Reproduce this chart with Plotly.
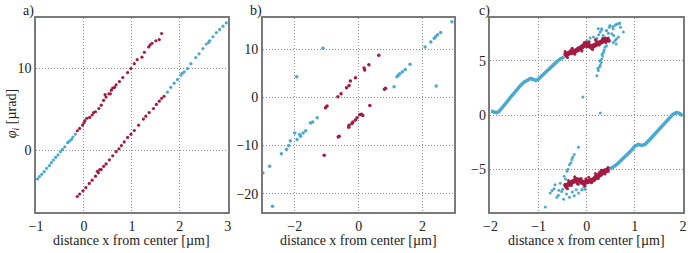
import plotly.graph_objects as go

# ---------------- data ----------------
# panel a
a_blue1_x = [-0.97, -0.93, -0.88, -0.83, -0.78, -0.72, -0.68, -0.64, -0.59, -0.54, -0.49, -0.45, -0.40, -0.34, -0.30, -0.26, -0.23, -0.18]
a_blue1_y = [-3.55, -3.27, -2.98, -2.65, -2.24, -1.92, -1.55, -1.22, -0.90, -0.60, -0.20, 0.08, 0.40, 0.90, 1.10, 1.30, 1.60, 1.96]
a_red1_x = [-0.14, -0.09, -0.03, 0.00, 0.02, 0.06, 0.12, 0.17, 0.24, 0.31, 0.36, 0.41, 0.46, 0.52, 0.57, 0.64, 0.67, 0.74, 0.81, 0.91, 0.98, 1.05, 1.11, 1.21, 1.26, 1.35, 1.42, 1.50, 1.57, 1.62, 0.44, 0.55, 0.60, 0.20, 1.38]
a_red1_y = [2.37, 2.65, 3.06, 3.35, 3.60, 3.90, 4.00, 4.30, 4.70, 5.10, 5.50, 6.10, 6.50, 6.90, 7.35, 7.70, 8.00, 8.40, 8.90, 9.50, 10.00, 10.60, 11.10, 11.40, 12.00, 12.65, 13.10, 13.40, 13.55, 14.30, 6.80, 6.90, 7.60, 4.60, 12.90]
a_red2_x = [-0.14, -0.09, -0.02, 0.04, 0.11, 0.17, 0.24, 0.30, 0.36, 0.41, 0.46, 0.53, 0.60, 0.67, 0.73, 0.78, 0.84, 0.91, 0.98, 1.05, 1.14, 1.24, 1.29, 1.36, 1.45, 1.51, 1.57, 1.62, 1.67, 0.28, 0.33]
a_red2_y = [-5.70, -5.40, -5.00, -4.60, -4.10, -3.70, -3.20, -2.80, -2.40, -2.00, -1.70, -1.20, -0.70, -0.20, 0.15, 0.55, 1.00, 1.55, 1.95, 2.40, 3.05, 3.80, 4.15, 4.60, 5.10, 5.60, 6.00, 6.35, 6.60, -2.60, -2.40]
a_blue2_x = [1.74, 1.81, 1.88, 1.95, 2.02, 2.09, 2.16, 2.23, 2.33, 2.40, 2.48, 2.55, 2.62, 2.69, 2.76, 2.83, 2.90, 2.97, 2.05, 2.60]
a_blue2_y = [7.10, 7.70, 8.20, 8.65, 9.20, 9.60, 10.00, 10.60, 11.35, 11.80, 12.45, 13.00, 13.40, 13.90, 14.40, 14.80, 15.20, 15.60, 9.40, 13.20]

# panel b
b_blue_x = [-3.00, -2.79, -2.70, -2.42, -2.26, -2.19, -2.14, -2.00, -1.93, -1.85, -1.82, -1.74, -1.66, -1.51, -1.44, -1.30, -1.94, -1.12,
            1.11, 1.20, 1.24, 1.29, 1.37, 1.46, 1.61, 2.08, 2.26, 2.37, 2.41, 2.47, 2.57, 2.92, 2.43]
b_blue_y = [-15.7, -14.3, -22.6, -11.7, -10.8, -10.0, -9.0, -7.4, -8.75, -7.7, -8.05, -7.4, -6.9, -5.3, -5.1, -4.2, 4.3, 10.2,
            2.2, 4.3, 4.6, 4.9, 5.35, 5.8, 6.9, 10.5, 11.5, 12.3, 12.6, 13.0, 13.5, 15.7, 2.4]
b_red_x = [-1.08, -1.04, -0.99, -0.65, -0.55, -0.38, -0.30, -0.26, -0.10, 0.17, 0.19, 0.32, 0.63,
           -0.64, -0.61, -0.31, -0.30, -0.21, -0.18, -0.10, -0.05, 0.03, 0.09, 0.13, 0.35, 0.81, 0.84]
b_red_y = [-12.0, -2.15, -1.8, 0.14, 0.76, 2.0, 2.5, 3.4, 4.1, 6.1, 5.7, 6.8, 8.75,
           -8.2, -8.05, -6.2, -5.8, -5.4, -5.1, -4.7, -4.2, -3.6, -3.5, -3.75, -1.7, 1.7, 1.9]

# panel c
c_blue_up_x = [-1.99, -1.93, -1.88, -1.83, -1.78, -1.72, -1.66, -1.59, -1.52, -1.45, -1.38, -1.31, -1.24, -1.17, -1.12, -1.06, -1.02, -0.97, -0.90, -0.83, -0.76, -0.69, -0.62, -0.55, -0.47]
c_blue_up_y = [0.37, 0.28, 0.22, 0.28, 0.53, 0.84, 1.20, 1.60, 2.00, 2.30, 2.70, 3.00, 3.20, 3.37, 3.30, 3.20, 3.25, 3.47, 3.78, 4.08, 4.40, 4.64, 4.92, 5.17, 5.35]
c_red_up_x = [-0.47, -0.41, -0.36, -0.29, -0.22, -0.15, -0.08, -0.01, 0.03, 0.10, 0.15, 0.22, 0.29, 0.36, 0.43, 0.48]
c_red_up_y = [5.45, 5.63, 5.73, 5.80, 5.94, 6.10, 6.35, 6.56, 6.47, 6.25, 6.40, 6.60, 6.78, 6.87, 6.97, 7.03]
c_red_up_sx = [-0.45, -0.40, -0.33, -0.25, -0.18, -0.10, -0.05, 0.05, 0.12, 0.20, 0.26, 0.33, 0.40, 0.46, -0.30, 0.00, 0.18, 0.38]
c_red_up_sy = [5.85, 5.30, 6.00, 5.60, 6.20, 5.90, 6.70, 6.75, 6.05, 6.85, 6.45, 7.05, 6.70, 6.80, 6.15, 6.30, 6.95, 7.10]
c_blue_up_cx = [0.21, 0.28, 0.34, 0.41, 0.47, 0.52, 0.55, 0.59, 0.63, 0.68, 0.70, 0.76, 0.55, 0.59, 0.62, 0.48, 0.14, 0.07, 0.00, -0.03, 0.38, 0.25, 0.31,
                0.24, 0.31, 0.41, 0.48, 0.54, 0.61, 0.68, 0.56, 0.61, 0.66, 0.45,
                0.21, 0.24, 0.26, 0.28, 0.30, 0.31, 0.33, 0.35, 0.36, 0.38, 0.41, 0.23, 0.27, 0.32,
                -0.08, 0.28]
c_blue_up_cy = [7.09, 7.65, 7.34, 7.80, 8.10, 7.50, 7.96, 8.27, 8.40, 8.50, 8.10, 7.65, 6.70, 6.87, 7.03, 6.87, 7.20, 7.10, 6.87, 6.70, 7.10, 7.40, 7.96,
                7.96, 7.86, 7.80, 8.26, 8.17, 8.36, 8.42, 7.34, 6.56, 7.20, 7.55,
                3.62, 4.10, 4.40, 4.60, 4.85, 5.17, 5.45, 5.80, 6.00, 6.26, 6.40, 4.30, 5.00, 5.60,
                1.67, 0.19]
c_blue_lo_x = [0.45, 0.52, 0.62, 0.72, 0.83, 0.93, 1.00, 1.07, 1.14, 1.21, 1.31, 1.45, 1.59, 1.72, 1.79, 1.86, 1.93, 1.99]
c_blue_lo_y = [-4.98, -4.88, -4.58, -4.18, -3.74, -3.25, -2.88, -2.72, -2.81, -2.72, -2.26, -1.58, -0.86, -0.24, 0.06, 0.22, 0.16, -0.09]
c_red_lo_x = [0.47, 0.40, 0.35, 0.28, 0.21, 0.14, 0.07, 0.00, -0.07, -0.14, -0.21, -0.28, -0.35, -0.41, -0.47]
c_red_lo_y = [-5.05, -5.10, -5.20, -5.50, -5.66, -5.97, -6.06, -6.20, -6.28, -6.05, -5.97, -6.13, -6.34, -6.53, -6.65]
c_red_lo_sx = [0.44, 0.38, 0.30, 0.24, 0.18, 0.10, 0.04, -0.04, -0.12, -0.18, -0.25, -0.32, -0.38, -0.45, 0.26, -0.02, -0.20, -0.40]
c_red_lo_sy = [-4.85, -5.45, -5.10, -5.85, -5.40, -6.25, -5.75, -6.55, -5.85, -6.40, -5.70, -6.50, -6.05, -6.40, -5.30, -5.90, -6.30, -6.80]
c_blue_lo_cx = [-0.47, -0.41, -0.36, -0.31, -0.26, -0.44, -0.39, -0.33, -0.29, -0.17,
                -0.66, -0.72, -0.76, -0.62, -0.59, -0.52, -0.48, -0.36, -0.26, -0.22, -0.10, -0.06, -0.14, -0.86, -0.50, -0.55,
                -0.17, -0.10, -0.03, -0.68, -0.58, -0.42, -0.30]
c_blue_lo_cy = [-5.66, -5.20, -4.58, -4.11, -3.65, -5.90, -5.00, -4.40, -3.90, -2.97,
                -6.43, -6.96, -7.20, -7.58, -7.40, -7.06, -7.77, -7.58, -7.46, -6.90, -6.90, -6.65, -6.30, -8.50, -6.84, -6.30,
                -7.20, -6.90, -6.84, -6.80, -6.95, -7.30, -7.10]

# tick labels
a_xticks = [-1, 0, 1, 2, 3]
a_yticks = [0, 10]
b_xticks = [-2, 0, 2]
b_yticks = [-20, -10, 0, 10]
c_xticks = [-2, -1, 0, 1, 2]
c_yticks = [-5, 0, 5]

BLUE = "#4aa9d0"
RED = "#a31b40"
FONT = "Liberation Serif"
FS = 14

fig = go.Figure()

def pts(x, y, color, size, xa, ya):
    fig.add_trace(go.Scatter(x=x, y=y, mode="markers", xaxis=xa, yaxis=ya,
                             marker=dict(color=color, size=size, line=dict(width=0)),
                             showlegend=False, hoverinfo="skip"))

def band(x, y, color, width, xa, ya):
    fig.add_trace(go.Scatter(x=x, y=y, mode="lines", xaxis=xa, yaxis=ya,
                             line=dict(color=color, width=width),
                             showlegend=False, hoverinfo="skip"))

# panel a
pts(a_blue1_x, a_blue1_y, BLUE, 3.2, "x", "y")
pts(a_blue2_x, a_blue2_y, BLUE, 3.2, "x", "y")
pts(a_red1_x, a_red1_y, RED, 3.2, "x", "y")
pts(a_red2_x, a_red2_y, RED, 3.2, "x", "y")
# panel b
pts(b_blue_x, b_blue_y, BLUE, 3.5, "x2", "y2")
pts(b_red_x, b_red_y, RED, 3.5, "x2", "y2")
# panel c
band(c_blue_up_x, c_blue_up_y, BLUE, 3.5, "x3", "y3")
band(c_blue_lo_x, c_blue_lo_y, BLUE, 3.5, "x3", "y3")
pts(c_blue_up_cx, c_blue_up_cy, BLUE, 3, "x3", "y3")
pts(c_blue_lo_cx, c_blue_lo_cy, BLUE, 3, "x3", "y3")
band(c_red_up_x, c_red_up_y, RED, 5, "x3", "y3")
band(c_red_lo_x, c_red_lo_y, RED, 5, "x3", "y3")
pts(c_red_up_sx, c_red_up_sy, RED, 3, "x3", "y3")
pts(c_red_lo_sx, c_red_lo_sy, RED, 3, "x3", "y3")

W, H = 694, 253
ML, MR, MT, MB = 36, 7, 18, 41
PW = W - ML - MR
PH = H - MT - MB

def px(x):
    return (x - ML) / PW

def py(y):
    return (H - MB - y) / PH

axis_common = dict(showline=True, mirror=True, linecolor="#7a7a7a", linewidth=1.5,
                   showgrid=True, gridcolor="#8c8c8c", gridwidth=1, griddash="1px,2px",
                   zeroline=False, ticks="", tickfont=dict(family=FONT, size=FS, color="#222"),
                   tickmode="array")

doms = [(px(36), px(229)), (px(264.3), px(457)), (px(493.3), px(687))]
ranges_x = [[-1, 3], [-3, 3], [-2, 2]]
ranges_y = [[-7.6, 16.2], [-23.8, 16.5], [-8.95, 8.95]]
xt = [a_xticks, b_xticks, c_xticks]
yt = [a_yticks, b_yticks, c_yticks]

layout = dict(width=W, height=H, margin=dict(l=ML, r=MR, t=MT, b=MB),
              paper_bgcolor="white", plot_bgcolor="white",
              font=dict(family=FONT, size=FS, color="#222"))
for i in range(3):
    sx = "" if i == 0 else str(i + 1)
    layout["xaxis" + sx] = dict(axis_common, domain=list(doms[i]), range=ranges_x[i],
                                tickvals=xt[i], anchor="y" + sx)
    layout["yaxis" + sx] = dict(axis_common, domain=[0, 1], range=ranges_y[i],
                                tickvals=yt[i], anchor="x" + sx)
fig.update_layout(**layout)

ann = []
for i, lab in enumerate(["a)", "b)", "c)"]):
    cx = [28, 257, 487][i]
    ann.append(dict(text=lab, x=px(cx), y=py(11), xref="paper", yref="paper",
                    showarrow=False, xanchor="center", yanchor="middle",
                    font=dict(family=FONT, size=FS, color="#222")))
    mid = (doms[i][0] + doms[i][1]) / 2
    ann.append(dict(text="distance x from center [µm]", x=mid, y=py(240), xref="paper", yref="paper",
                    showarrow=False, xanchor="center", yanchor="middle",
                    font=dict(family=FONT, size=FS, color="#222")))
ann.append(dict(text="<i>φ</i><sub><i>i</i></sub> [µrad]", x=px(12), y=py(114), xref="paper", yref="paper",
                showarrow=False, xanchor="center", yanchor="middle", textangle=-90,
                font=dict(family=FONT, size=FS, color="#222")))
fig.update_layout(annotations=ann)

fig.write_html("out.html", config={"displayModeBar": False},
               post_script="document.body.style.margin='0';document.body.style.padding='0';")
